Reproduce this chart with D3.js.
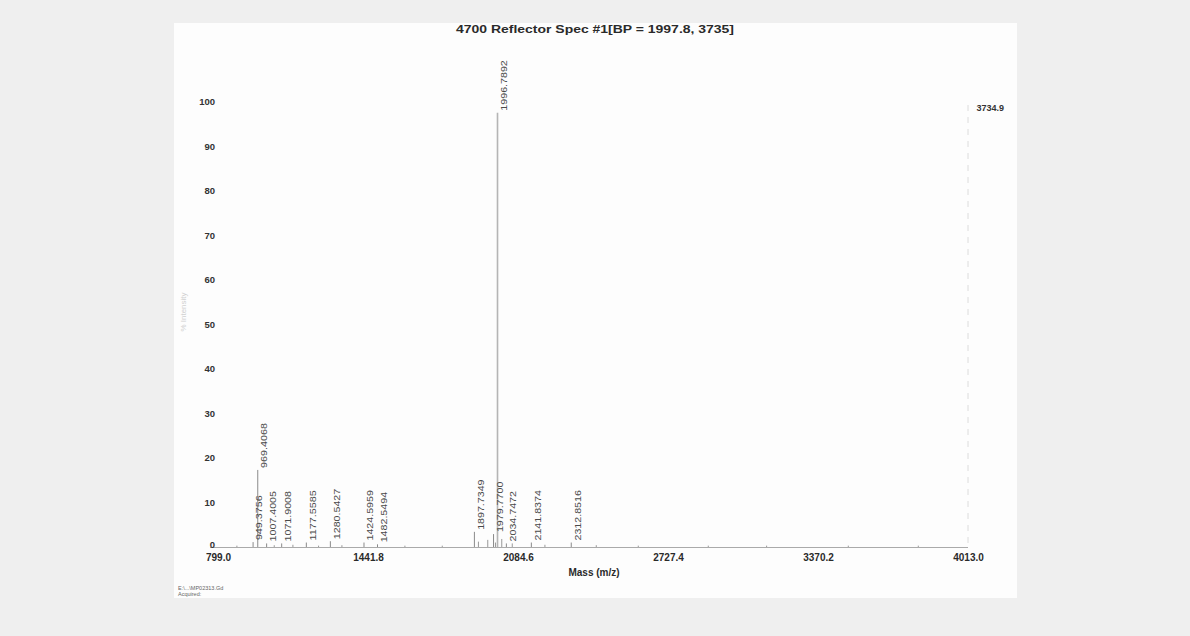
<!DOCTYPE html>
<html>
<head>
<meta charset="utf-8">
<script src="https://cdn.jsdelivr.net/npm/d3@7"></script>
<style>
  html, body { margin: 0; padding: 0; background: #efefef; }
  svg { display: block; font-family: "Liberation Sans", Arial, sans-serif; }
</style>
</head>
<body>
<svg id="chart" width="1190" height="636"></svg>
<script>
// ---- data ----
const titleText = "4700 Reflector Spec #1[BP = 1997.8, 3735]";
const peakMasses = [949.3756, 969.4068, 1007.4005, 1071.9008, 1177.5585, 1280.5427, 1424.5959, 1482.5494, 1897.7349, 1979.7700, 1996.7892, 2034.7472, 2141.8374, 2312.8516];
const peakIntensities = [1.1, 17.3, 0.8, 0.8, 1.0, 1.3, 1.0, 0.6, 3.4, 2.9, 97.5, 0.8, 1.0, 1.0];
const peakLabels = ["949.3756", "969.4068", "1007.4005", "1071.9008", "1177.5585", "1280.5427", "1424.5959", "1482.5494", "1897.7349", "1979.7700", "1996.7892", "2034.7472", "2141.8374", "2312.8516"];
const minorMasses = [880, 1040, 1120, 1230, 1330, 1600, 1760, 1915, 1955, 1988, 2015, 2060, 2200, 2420, 2600, 2900, 3150, 3500, 3800];
const minorIntensities = [0.3, 0.4, 0.5, 0.3, 0.4, 0.3, 0.3, 1.2, 1.6, 1.0, 1.8, 0.8, 0.5, 0.4, 0.3, 0.3, 0.3, 0.3, 0.3];
const xTickValues = [799.0, 1441.8, 2084.6, 2727.4, 3370.2, 4013.0];
const yTickValues = [0, 10, 20, 30, 40, 50, 60, 70, 80, 90, 100];
const maxIntensityLabel = "3734.9";
const xAxisTitle = "Mass (m/z)";
const yAxisTitle = "% Intensity";
const footerLines = ["E:\\...\\MP02313.Gd", "Acquired:"];

// ---- layout ----
const svg = d3.select("#chart");
svg.append("rect").attr("x", 174).attr("y", 23).attr("width", 843).attr("height", 575).attr("fill", "#fdfdfd");

const x = d3.scaleLinear().domain([799.0, 4013.0]).range([218, 968]);
const y = d3.scaleLinear().domain([0, 100]).range([547, 101.5]);

// title
svg.append("text").attr("x", 456).attr("y", 33)
  .attr("font-size", 11.5).attr("font-weight", "bold").attr("fill", "#2a2a2a")
  .attr("textLength", 278).attr("lengthAdjust", "spacingAndGlyphs").text(titleText);

// right faint frame line
svg.append("line").attr("x1", x(4013)).attr("x2", x(4013)).attr("y1", 105).attr("y2", y(0))
  .attr("stroke", "#dcdcdc").attr("stroke-width", 1).attr("stroke-dasharray", "6,6");

// baseline axis
svg.append("line").attr("x1", 210).attr("x2", x(4013)).attr("y1", y(0) + 0.5).attr("y2", y(0) + 0.5)
  .attr("stroke", "#aaaaaa").attr("stroke-width", 1);

// x axis ticks (labels only)
const xAxis = d3.axisBottom(x).tickValues(xTickValues).tickSize(0).tickFormat(d3.format(".1f"));
const gx = svg.append("g").attr("transform", `translate(0,${y(0) + 4})`).call(xAxis);
gx.select(".domain").remove();
gx.selectAll("text").attr("font-size", 10).attr("font-weight", "bold").attr("fill", "#2a2a2a")
  .attr("font-family", "Liberation Sans, Arial, sans-serif");

// y axis ticks (labels only)
const yAxis = d3.axisLeft(y).tickValues(yTickValues).tickSize(0).tickFormat(d3.format("d"));
const gy = svg.append("g").attr("transform", `translate(218,0)`).call(yAxis);
gy.select(".domain").remove();
gy.selectAll("text").attr("font-size", 9.5).attr("font-weight", "bold").attr("fill", "#333")
  .attr("font-family", "Liberation Sans, Arial, sans-serif");
gy.selectAll(".tick").filter(d => d === 0).select("text").attr("dy", "0.1em");

// axis titles
svg.append("text").attr("x", 594).attr("y", 576).attr("text-anchor", "middle")
  .attr("font-size", 10).attr("font-weight", "bold").attr("fill", "#2a2a2a").text(xAxisTitle);
svg.append("text").attr("transform", "translate(186,312) rotate(-90)").attr("text-anchor", "middle")
  .attr("font-size", 8).attr("fill", "#d0d0d0").text(yAxisTitle);

// max intensity label
svg.append("text").attr("x", 1004).attr("y", 111).attr("text-anchor", "end")
  .attr("font-size", 9).attr("font-weight", "bold").attr("fill", "#333").text(maxIntensityLabel);

// minor peaks
const minor = minorMasses.map((m, i) => ({ m, v: minorIntensities[i] }));
svg.append("g").selectAll("line").data(minor).join("line")
  .attr("x1", d => x(d.m)).attr("x2", d => x(d.m))
  .attr("y1", y(0)).attr("y2", d => y(d.v))
  .attr("stroke", "#999").attr("stroke-width", 1);

// labelled peaks
const peaks = peakMasses.map((m, i) => ({ m, v: peakIntensities[i], label: peakLabels[i] }));
svg.append("g").selectAll("line").data(peaks).join("line")
  .attr("x1", d => x(d.m)).attr("x2", d => x(d.m))
  .attr("y1", y(0)).attr("y2", d => y(d.v))
  .attr("stroke", d => d.v > 50 ? "#b5b5b5" : "#8a8a8a")
  .attr("stroke-width", d => d.v > 50 ? 1.6 : 1);

svg.append("g").selectAll("text").data(peaks).join("text")
  .attr("transform", d => `translate(${x(d.m) + 6},${y(d.v) - 2}) rotate(-90)`)
  .attr("dy", "0.35em")
  .attr("font-size", 9.5).attr("fill", "#4a4a4a")
  .attr("textLength", d => d.label.length * 5.6).attr("lengthAdjust", "spacingAndGlyphs")
  .text(d => d.label);

// footer
svg.append("g").selectAll("text").data(footerLines).join("text")
  .attr("x", 178).attr("y", (d, i) => 590 + i * 6)
  .attr("font-size", 5.5).attr("fill", "#666").text(d => d);
</script>
</body>
</html>
